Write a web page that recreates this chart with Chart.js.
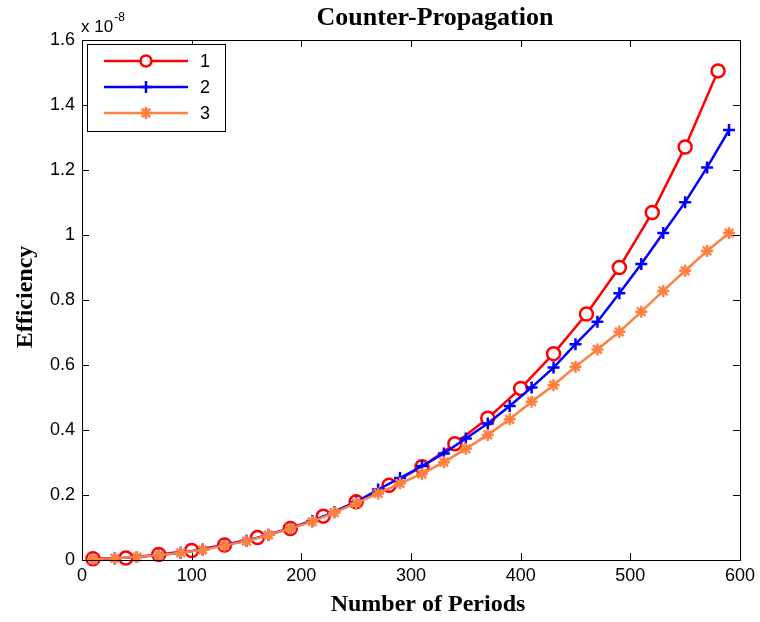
<!DOCTYPE html>
<html><head><meta charset="utf-8">
<script src="https://cdn.jsdelivr.net/npm/chart.js@4.4.1/dist/chart.umd.min.js"></script>
<style>html,body{margin:0;padding:0;background:#fff}#wrap{width:760px;height:622px}</style>
</head><body><div id="wrap"><canvas id="c" width="760" height="622"></canvas></div>
<script>
// ---- data (efficiency in units of 1e-8) ----
const titleText = 'Counter-Propagation';
const xLabel = 'Number of Periods';
const yLabel = 'Efficiency';
const exponentBase = 'x 10';
const exponentPower = '-8';
const seriesNames = ['1', '2', '3'];
const xTicks = [0, 100, 200, 300, 400, 500, 600];
const yTicks = [0, 0.2, 0.4, 0.6, 0.8, 1.0, 1.2, 1.4, 1.6];

const periods1 = [10, 40, 70, 100, 130, 160, 190, 220, 250, 280, 310, 340, 370, 400, 430, 460, 490, 520, 550, 580];
const eff1 = [0.004, 0.006, 0.017, 0.029, 0.046, 0.069, 0.097, 0.135, 0.179, 0.230, 0.287, 0.358, 0.436, 0.528, 0.635, 0.757, 0.900, 1.069, 1.271, 1.505];

const periods2 = [10, 30, 50, 70, 90, 110, 130, 150, 170, 190, 210, 230, 250, 270, 290, 310, 330, 350, 370, 390, 410, 430, 450, 470, 490, 510, 530, 550, 570, 590];
const eff2 = [0.003, 0.005, 0.009, 0.015, 0.022, 0.032, 0.046, 0.059, 0.078, 0.098, 0.120, 0.148, 0.178, 0.217, 0.252, 0.289, 0.328, 0.374, 0.420, 0.474, 0.531, 0.592, 0.664, 0.733, 0.821, 0.911, 1.006, 1.101, 1.208, 1.323];

const periods3 = [10, 30, 50, 70, 90, 110, 130, 150, 170, 190, 210, 230, 250, 270, 290, 310, 330, 350, 370, 390, 410, 430, 450, 470, 490, 510, 530, 550, 570, 590];
const eff3 = [0.003, 0.005, 0.009, 0.015, 0.022, 0.031, 0.045, 0.058, 0.077, 0.097, 0.118, 0.146, 0.175, 0.205, 0.236, 0.265, 0.301, 0.342, 0.385, 0.433, 0.487, 0.538, 0.595, 0.648, 0.702, 0.764, 0.828, 0.890, 0.951, 1.006];

const colors = ['#ff0000', '#0000ff', '#ff8040'];
const markers = ['circle', 'cross', 'star'];

function pts(xs, ys) { return xs.map((x, i) => ({x: x, y: ys[i]})); }

const SANS = '"Liberation Sans", Arial, sans-serif';
const SERIF = '"Liberation Serif", "Times New Roman", serif';

function drawMarker(ctx, style, x, y, r, color, lw) {
  ctx.save();
  ctx.strokeStyle = color; ctx.lineWidth = lw; ctx.lineCap = 'butt';
  ctx.beginPath();
  if (style === 'circle') {
    ctx.fillStyle = '#fff';
    ctx.arc(x, y, r, 0, Math.PI * 2);
    ctx.fill(); ctx.stroke();
  } else if (style === 'cross') {
    ctx.moveTo(x - r, y); ctx.lineTo(x + r, y);
    ctx.moveTo(x, y - r); ctx.lineTo(x, y + r);
    ctx.stroke();
  } else {
    ctx.moveTo(x - r, y); ctx.lineTo(x + r, y);
    ctx.moveTo(x, y - r); ctx.lineTo(x, y + r);
    const d = r * Math.SQRT1_2;
    ctx.moveTo(x - d, y - d); ctx.lineTo(x + d, y + d);
    ctx.moveTo(x - d, y + d); ctx.lineTo(x + d, y - d);
    ctx.stroke();
  }
  ctx.restore();
}

const framePlugin = {
  id: 'matlabFrame',
  afterDatasetsDraw(chart) {
    const ctx = chart.ctx, a = chart.chartArea;
    const xs = chart.scales.x, ys = chart.scales.y;
    ctx.save();
    ctx.strokeStyle = '#000'; ctx.lineWidth = 1;
    ctx.strokeRect(Math.round(a.left) + 0.5, Math.round(a.top) + 0.5, Math.round(a.right - a.left), Math.round(a.bottom - a.top));
    ctx.beginPath();
    const tl = 7;
    xTicks.forEach(v => {
      const px = Math.round(xs.getPixelForValue(v)) + 0.5;
      ctx.moveTo(px, a.bottom); ctx.lineTo(px, a.bottom - tl);
      ctx.moveTo(px, a.top); ctx.lineTo(px, a.top + tl);
    });
    yTicks.forEach(v => {
      const py = Math.round(ys.getPixelForValue(v)) + 0.5;
      ctx.moveTo(a.left, py); ctx.lineTo(a.left + tl, py);
      ctx.moveTo(a.right, py); ctx.lineTo(a.right - tl, py);
    });
    ctx.stroke();
    ctx.restore();
  },
  afterDraw(chart) {
    const ctx = chart.ctx;
    ctx.save();
    // title
    ctx.fillStyle = '#000';
    ctx.textAlign = 'center'; ctx.textBaseline = 'middle';
    ctx.font = 'bold 26px ' + SERIF;
    ctx.fillText(titleText, 435, 18);
    // x label
    ctx.font = 'bold 24px ' + SERIF;
    ctx.fillText(xLabel, 428, 605);
    // y label
    ctx.save();
    ctx.translate(26, 297);
    ctx.rotate(-Math.PI / 2);
    ctx.fillText(yLabel, 0, 0);
    ctx.restore();
    // exponent
    ctx.textAlign = 'left'; ctx.textBaseline = 'alphabetic';
    ctx.font = '17px ' + SANS;
    ctx.fillText(exponentBase, 81, 32);
    const w = ctx.measureText(exponentBase).width;
    ctx.font = '12px ' + SANS;
    ctx.fillText(exponentPower, 81 + w + 1, 21);
    // legend
    const bx = 87.5, by = 44.5, bw = 138, bh = 87;
    ctx.fillStyle = '#fff';
    ctx.fillRect(bx, by, bw, bh);
    ctx.strokeStyle = '#000'; ctx.lineWidth = 1;
    ctx.strokeRect(bx, by, bw, bh);
    const rowsY = [61, 87, 113];
    chart.data.datasets.forEach((ds, i) => {
      const yy = rowsY[ds.legendIndex];
      ctx.strokeStyle = ds.borderColor; ctx.lineWidth = 2.5;
      ctx.beginPath(); ctx.moveTo(104, yy); ctx.lineTo(188, yy); ctx.stroke();
      drawMarker(ctx, ds.pointStyle, 146, yy, ds.legendIndex === 0 ? 5.5 : ds.pointRadius, ds.borderColor, ds.pointBorderWidth);
      ctx.fillStyle = '#000';
      ctx.font = '18px ' + SANS;
      ctx.textAlign = 'left'; ctx.textBaseline = 'middle';
      ctx.fillText(ds.label, 200, yy + 1);
    });
    ctx.restore();
  }
};

const datasets = [
  {label: seriesNames[2], legendIndex: 2, data: pts(periods3, eff3), borderColor: colors[2], backgroundColor: colors[2],
   pointStyle: markers[2], pointRadius: 6, pointBorderWidth: 2.5, pointBackgroundColor: colors[2], borderWidth: 2.5, order: 1},
  {label: seriesNames[1], legendIndex: 1, data: pts(periods2, eff2), borderColor: colors[1], backgroundColor: colors[1],
   pointStyle: markers[1], pointRadius: 6, pointBorderWidth: 2.5, borderWidth: 2.5, order: 2},
  {label: seriesNames[0], legendIndex: 0, data: pts(periods1, eff1), borderColor: colors[0], backgroundColor: colors[0],
   pointStyle: markers[0], pointRadius: 6.5, pointBorderWidth: 2.5, pointBackgroundColor: '#ffffff', borderWidth: 2.5, order: 3}
];
datasets.forEach(d => { d.clip = false; d.tension = 0; d.fill = false; d.pointHoverRadius = d.pointRadius; });

new Chart(document.getElementById('c'), {
  type: 'line',
  data: {datasets: datasets},
  options: {
    responsive: false, animation: false, devicePixelRatio: 1,
    layout: {padding: {top: 40, right: 20, bottom: 0, left: 0}},
    plugins: {legend: {display: false}, title: {display: false}, tooltip: {enabled: false}},
    scales: {
      x: {type: 'linear', min: 0, max: 600,
          afterFit(s) { s.height = 62; },
          afterBuildTicks(s) { s.ticks = xTicks.map(v => ({value: v})); },
          ticks: {color: '#000', font: {family: SANS, size: 18}, padding: 5, maxRotation: 0, autoSkip: false,
                  callback: v => String(v)},
          grid: {display: false, drawTicks: false}, border: {display: false}},
      y: {type: 'linear', min: 0, max: 1.6,
          afterFit(s) { s.width = 82; },
          afterBuildTicks(s) { s.ticks = yTicks.map(v => ({value: v})); },
          ticks: {color: '#000', font: {family: SANS, size: 18}, padding: 7, autoSkip: false,
                  callback: v => String(Number(v.toFixed(1)))},
          grid: {display: false, drawTicks: false}, border: {display: false}}
    }
  },
  plugins: [framePlugin]
});
</script></body></html>
